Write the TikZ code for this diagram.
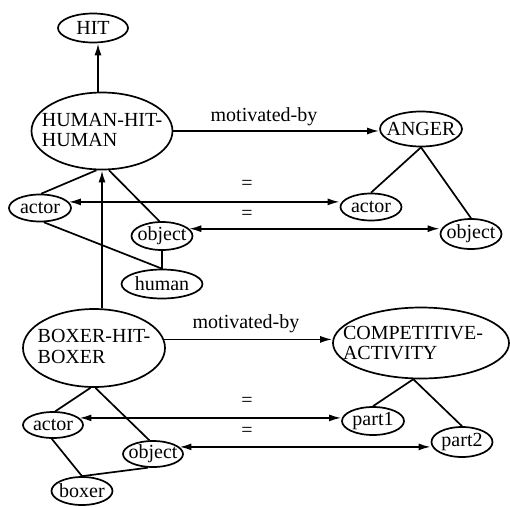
\documentclass[tikz,border=0pt]{standalone}
\usepackage{fontspec}
\setmainfont{Liberation Serif}
\usetikzlibrary{shapes.geometric,arrows.meta}
\begin{document}
\begin{tikzpicture}[x=1pt,y=-1pt,
  ell/.style={draw,ellipse,line width=1.7pt,inner sep=0pt},
  txt/.style={inner sep=0pt,align=left,font=\fontsize{20}{20.5}\selectfont},
  lnk/.style={line width=1.7pt},
  arr/.style={line width=1.7pt,-{Latex[length=12pt,width=7pt]}},
  darr/.style={line width=1.7pt,{Latex[length=12pt,width=7pt]}-{Latex[length=12pt,width=7pt]}}]
\useasboundingbox (0,0) rectangle (510,506);
% ellipses
\node[ell,minimum width=70pt,minimum height=29pt] (hit) at (93,28) {};
\node[ell,minimum width=141pt,minimum height=77pt] (hhh) at (102,131) {};
\node[ell,minimum width=62pt,minimum height=27pt] (aL) at (40,208) {};
\node[ell,minimum width=61pt,minimum height=28pt] (oL) at (162,236) {};
\node[ell,minimum width=81pt,minimum height=29pt] (hum) at (162,284) {};
\node[ell,minimum width=82pt,minimum height=35pt] (anger) at (421,129) {};
\node[ell,minimum width=61pt,minimum height=27pt] (aR) at (371,207) {};
\node[ell,minimum width=61pt,minimum height=30pt] (oR) at (471,234) {};
\node[ell,minimum width=142pt,minimum height=78pt] (bhb) at (94,348) {};
\node[ell,minimum width=176pt,minimum height=71pt] (ca) at (421,343) {};
\node[ell,minimum width=60pt,minimum height=26pt] (aB) at (53,425) {};
\node[ell,minimum width=60pt,minimum height=26pt] (oB) at (153,454) {};
\node[ell,minimum width=61pt,minimum height=28pt] (boxer) at (82,491) {};
\node[ell,minimum width=62pt,minimum height=28pt] (p1) at (373,421) {};
\node[ell,minimum width=61pt,minimum height=30pt] (p2) at (462,442) {};
% texts
\node[txt] (hitT) at (hit) {HIT};
\node[txt] (hhhT) at (102,130) {HUMAN-HIT-\\HUMAN};
\node[txt] (aLT) at (aL) {actor};
\node[txt] (oLT) at (oL) {object};
\node[txt] (humT) at (hum) {human};
\node[txt] (angerT) at (anger) {ANGER};
\node[txt] (aRT) at (aR) {actor};
\node[txt] (oRT) at (oR) {object};
\node[txt] (bhbT) at (94,346.5) {BOXER-HIT-\\BOXER};
\node[txt] (caT) at (413,343) {COMPETITIVE-\\ACTIVITY};
\node[txt] (aBT) at (aB) {actor};
\node[txt] (oBT) at (oB) {object};
\node[txt] (boxerT) at (boxer) {boxer};
\node[txt] (p1T) at (p1) {part1};
\node[txt] (p2T) at (p2) {part2};
% edge labels
\node[txt] (mb1) at (264,117) {motivated-by};
\node[txt] (mb2) at (246,324) {motivated-by};
\node[txt] (eq1) at (247,185) {=};
\node[txt] (eq2) at (247,215) {=};
\node[txt] (eq3) at (247,402) {=};
\node[txt] (eq4) at (247,432) {=};
% arrows
\draw[arr] (hhh.north -| hit.south) ++(5,0) coordinate (hs) -- (hs |- hit.south);
\draw[arr] (bhb.north -| hhh.south) -- (hhh.south);
\draw[arr] (hhh.east) -- (hhh.east -| anger.west);
\draw[arr] (bhb.7) -- (bhb.7 -| ca.west);
\draw[darr] (aL.12) -- (aL.12 -| aR.west);
\draw[darr] (oL.15) -- (oL.15 -| oR.west);
\draw[darr] (aB.15) -- (aB.15 -| p1.west);
\draw[darr] (oB.15) -- (oB.15 -| p2.west);
% links
\draw[lnk] (hhh.262) -- (aL.85);
\draw[lnk] (hhh.280) -- (oL.100);
\draw[lnk] (aL.285) -- (hum.north);
\draw[lnk] (oL.south) -- (hum.north);
\draw[lnk] (bhb.265) -- (aB.80);
\draw[lnk] (bhb.272) -- (oB.105);
\draw[lnk] (aB.265) -- (boxer.north);
\draw[lnk] (oB.250) -- (boxer.north);
\draw[lnk] (anger.south) -- (aR.north);
\draw[lnk] (anger.south) -- (oR.north);
\draw[lnk] (ca.258) -- (p1.north);
\draw[lnk] (ca.258) -- (p2.north);
\end{tikzpicture}
\end{document}
